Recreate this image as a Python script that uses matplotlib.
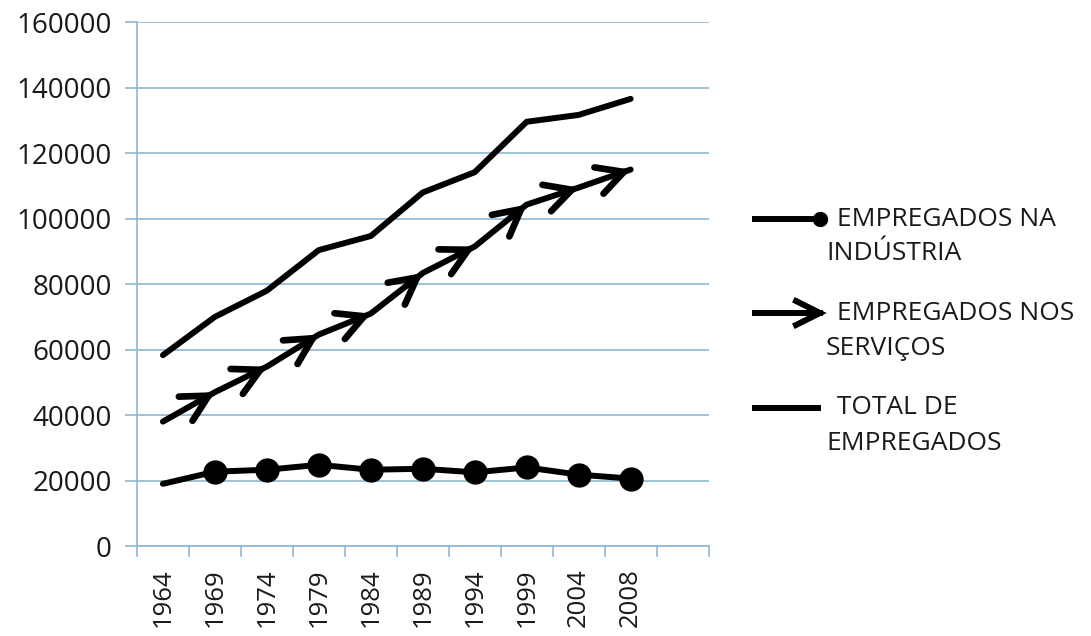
import matplotlib
matplotlib.use("Agg")
import matplotlib.pyplot as plt
from matplotlib.lines import Line2D
import numpy as np

years = ["1964", "1969", "1974", "1979", "1984", "1989", "1994", "1999", "2004", "2008"]
industria = [19000, 22700, 23300, 24800, 23300, 23600, 22500, 24000, 21800, 20600]
servicos = [38000, 47000, 54800, 64600, 71000, 83400, 91500, 104300, 109500, 115000]
total = [58300, 70000, 78000, 90400, 94700, 108000, 114200, 129600, 131700, 136600]
labels = [" EMPREGADOS NA\nINDÚSTRIA", " EMPREGADOS NOS\nSERVIÇOS", " TOTAL DE\nEMPREGADOS"]

plt.rcParams['font.family'] = ['Open Sans', 'DejaVu Sans']
grid_col = "#8FB8D0"
txt_col = "#1a1a1a"

fig = plt.figure(figsize=(10.91, 6.36), dpi=100)
ax = fig.add_axes([0.1255, 0.1415, 0.524, 0.8235])

x = np.arange(len(years))
lw = 4.3

# Total
ax.plot(x, total, color="black", lw=lw, solid_capstyle="round", solid_joinstyle="round", zorder=3)
# Industry
ax.plot(x, industria, color="black", lw=lw, solid_capstyle="round", zorder=3)
ax.plot(x[1:], industria[1:], 'o', color="black", ms=16.5, zorder=4)
# Services with arrowheads at each point
ax.plot(x, servicos, color="black", lw=lw, solid_capstyle="round", solid_joinstyle="round", zorder=3)
for i in range(1, len(x)):
    dx = x[i] - x[i - 1]
    ax.annotate("", xy=(x[i], servicos[i]),
                xytext=(x[i] - 0.3 * dx, servicos[i] - 0.3 * (servicos[i] - servicos[i - 1])),
                arrowprops=dict(arrowstyle="->,head_length=1.9,head_width=1.0", lw=lw + 0.5,
                                color="black", shrinkA=0, shrinkB=0,
                                capstyle="round", joinstyle="miter"), zorder=5)

ax.set_xlim(-0.5, 10.5)
ax.set_ylim(0, 160000)
ax.set_yticks(np.arange(0, 160001, 20000))
ax.yaxis.grid(True, color=grid_col, lw=1.2)
ax.set_axisbelow(True)

ax.set_xticks(np.arange(-0.5, 10.6, 1.0))
ax.set_xticklabels([])
ax.set_xticks(x, minor=True)
ax.set_xticklabels(years, minor=True, rotation=90, fontsize=18.5, color=txt_col)
ax.tick_params(axis="x", which="minor", length=0, pad=16)
ax.tick_params(axis="x", which="major", length=8, color=grid_col, width=1.2, direction="out")
ax.tick_params(axis="y", length=9, color=grid_col, width=1.2, direction="out",
               labelsize=20, pad=9, labelcolor=txt_col)

for s in ["top", "right"]:
    ax.spines[s].set_visible(False)
for s in ["left", "bottom"]:
    ax.spines[s].set_color(grid_col)
    ax.spines[s].set_linewidth(1.2)

# Legend (manual, Excel-like)
W, H = 1091.0, 636.0
leg_y = [1 - 219 / H, 1 - 313 / H, 1 - 408 / H]
x0, x1 = 755 / W, 820 / W
tx1 = 830 / W
tx2 = 826 / W
T = fig.transFigure
# industry
fig.add_artist(Line2D([x0, x1], [leg_y[0], leg_y[0]], color="black", lw=lw, transform=T))
fig.add_artist(Line2D([x1], [leg_y[0]], marker='o', ms=10, color="black", transform=T))
# services arrow
fig.add_artist(Line2D([x0, x1], [leg_y[1], leg_y[1]], color="black", lw=lw, transform=T))
fig.add_artist(Line2D([796 / W, 820 / W, 796 / W], [leg_y[1] + 12 / H, leg_y[1], leg_y[1] - 12 / H],
                      color="black", lw=lw, solid_joinstyle="miter", transform=T))
# total
fig.add_artist(Line2D([x0, 818 / W], [leg_y[2], leg_y[2]], color="black", lw=lw, transform=T))

for i, lab in enumerate(labels):
    first, second = lab.split("\n")
    fig.text(tx1, leg_y[i], first, fontsize=19, va="center", ha="left", color=txt_col)
    fig.text(tx2, leg_y[i] - 35 / H, second, fontsize=19, va="center", ha="left", color=txt_col)

fig.savefig("out.png", dpi=100, facecolor="white")
